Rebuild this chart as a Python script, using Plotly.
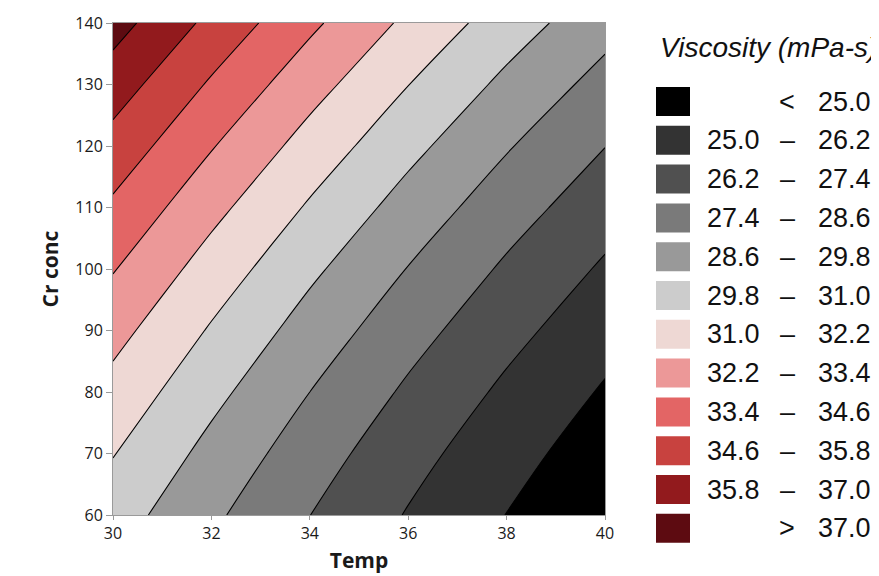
import plotly.graph_objects as go

# ---------------- data ----------------
temp = [30, 32, 34, 36, 38, 40]
cr_conc = [60, 70, 80, 90, 100, 110, 120, 130, 140]
# viscosity[i][j] -> Cr conc = cr_conc[i], Temp = temp[j]
viscosity = [
    [30.35, 28.82, 27.41, 26.12, 24.98, 23.96],
    [31.05, 29.44, 27.96, 26.62, 25.43, 24.39],
    [31.80, 30.13, 28.60, 27.21, 25.97, 24.88],
    [32.60, 30.88, 29.29, 27.85, 26.57, 25.43],
    [33.47, 31.68, 30.04, 28.56, 27.22, 26.04],
    [34.39, 32.55, 30.86, 29.32, 27.93, 26.70],
    [35.36, 33.48, 31.73, 30.14, 28.70, 27.42],
    [36.39, 34.45, 32.66, 31.02, 29.52, 28.19],
    [37.48, 35.49, 33.64, 31.95, 30.40, 29.02],
]
levels = [25.0, 26.2, 27.4, 28.6, 29.8, 31.0, 32.2, 33.4, 34.6, 35.8, 37.0]
band_colors = ['#000000', '#333333', '#505050', '#7a7a7a', '#999999', '#cccccc',
               '#eed8d4', '#ec9898', '#e36565', '#c8423f', '#921a1d', '#5d0b11']
x_ticks = [30, 32, 34, 36, 38, 40]
y_ticks = [60, 70, 80, 90, 100, 110, 120, 130, 140]
legend_title = 'Viscosity (mPa-s)'

# ---------------- layout geometry ----------------
# the page body adds an 8px margin, so work in page pixels and shift
OX, OY = 8, 8
W, H = 879 - OX, 576 - OY
L, R, T, B = 113, 605, 23, 515   # plot area in page pixels
PW, PH = R - L, B - T


def px(x):
    return (x - L) / PW


def py(y):
    return (B - y) / PH


step = levels[1] - levels[0]
n = len(band_colors)
colorscale = [[k / (n - 1), c] for k, c in enumerate(band_colors)]

fig = go.Figure()
fig.add_trace(go.Contour(
    x=temp, y=cr_conc, z=viscosity,
    contours=dict(start=levels[0], end=levels[-1], size=step,
                  coloring='fill', showlines=True),
    line=dict(color='black', width=1.1, smoothing=1),
    colorscale=colorscale, showscale=False, hoverinfo='skip',
))

shapes = []
annotations = []

annotations.append(dict(xref='paper', yref='paper', x=px(658), y=py(47),
                        xanchor='left', yanchor='middle', showarrow=False,
                        text='<i>' + legend_title + '</i>',
                        font=dict(family='Liberation Sans, Arial', size=28, color='#111111')))

row0, row_step = 101.5, 38.8
lab_font = dict(family='Liberation Sans, Arial', size=27, color='#111111')
for k, c in enumerate(band_colors):
    yc = row0 + k * row_step
    shapes.append(dict(type='rect', xref='paper', yref='paper',
                       x0=px(656), x1=px(690), y0=py(yc + 14.5), y1=py(yc - 14.5),
                       fillcolor=c, line=dict(width=0)))
    if k == 0:
        lo, mid, hi = '', '<', f'{levels[0]:.1f}'
    elif k == n - 1:
        lo, mid, hi = '', '>', f'{levels[-1]:.1f}'
    else:
        lo, mid, hi = f'{levels[k-1]:.1f}', '–', f'{levels[k]:.1f}'
    if lo:
        annotations.append(dict(xref='paper', yref='paper', x=px(762), y=py(yc),
                                xanchor='right', yanchor='middle', showarrow=False,
                                text=lo, font=lab_font))
    annotations.append(dict(xref='paper', yref='paper', x=px(787), y=py(yc),
                            xanchor='center', yanchor='middle', showarrow=False,
                            text=mid, font=lab_font))
    annotations.append(dict(xref='paper', yref='paper', x=px(873), y=py(yc),
                            xanchor='right', yanchor='middle', showarrow=False,
                            text=hi, font=lab_font))

tick_font = dict(family='Open Sans', size=16, color='#1a1a1a')
title_font = dict(family='Open Sans', size=21, color='#1a1a1a')

fig.update_layout(
    width=W, height=H,
    margin=dict(l=L - OX, r=W - (R - OX), t=T - OY, b=H - (B - OY), pad=0,
                autoexpand=False),
    paper_bgcolor='white', plot_bgcolor='white',
    shapes=shapes, annotations=annotations,
    showlegend=False,
    xaxis=dict(range=[temp[0], temp[-1]], tickvals=x_ticks, ticks='outside', ticklen=4,
               tickcolor='#999999', showline=True, linecolor='#9a9a9a', linewidth=1,
               mirror=True, showgrid=False, zeroline=False, tickfont=tick_font,
               automargin=False,
               title=dict(text='<b>Temp</b>', font=title_font, standoff=10)),
    yaxis=dict(range=[cr_conc[0], cr_conc[-1]], tickvals=y_ticks, ticks='outside', ticklen=6,
               tickcolor='#999999', showline=True, linecolor='#9a9a9a', linewidth=1,
               mirror=True, showgrid=False, zeroline=False, tickfont=tick_font,
               automargin=False,
               title=dict(text='<b>Cr conc</b>', font=title_font, standoff=10)),
)

fig.write_html('out.html')
